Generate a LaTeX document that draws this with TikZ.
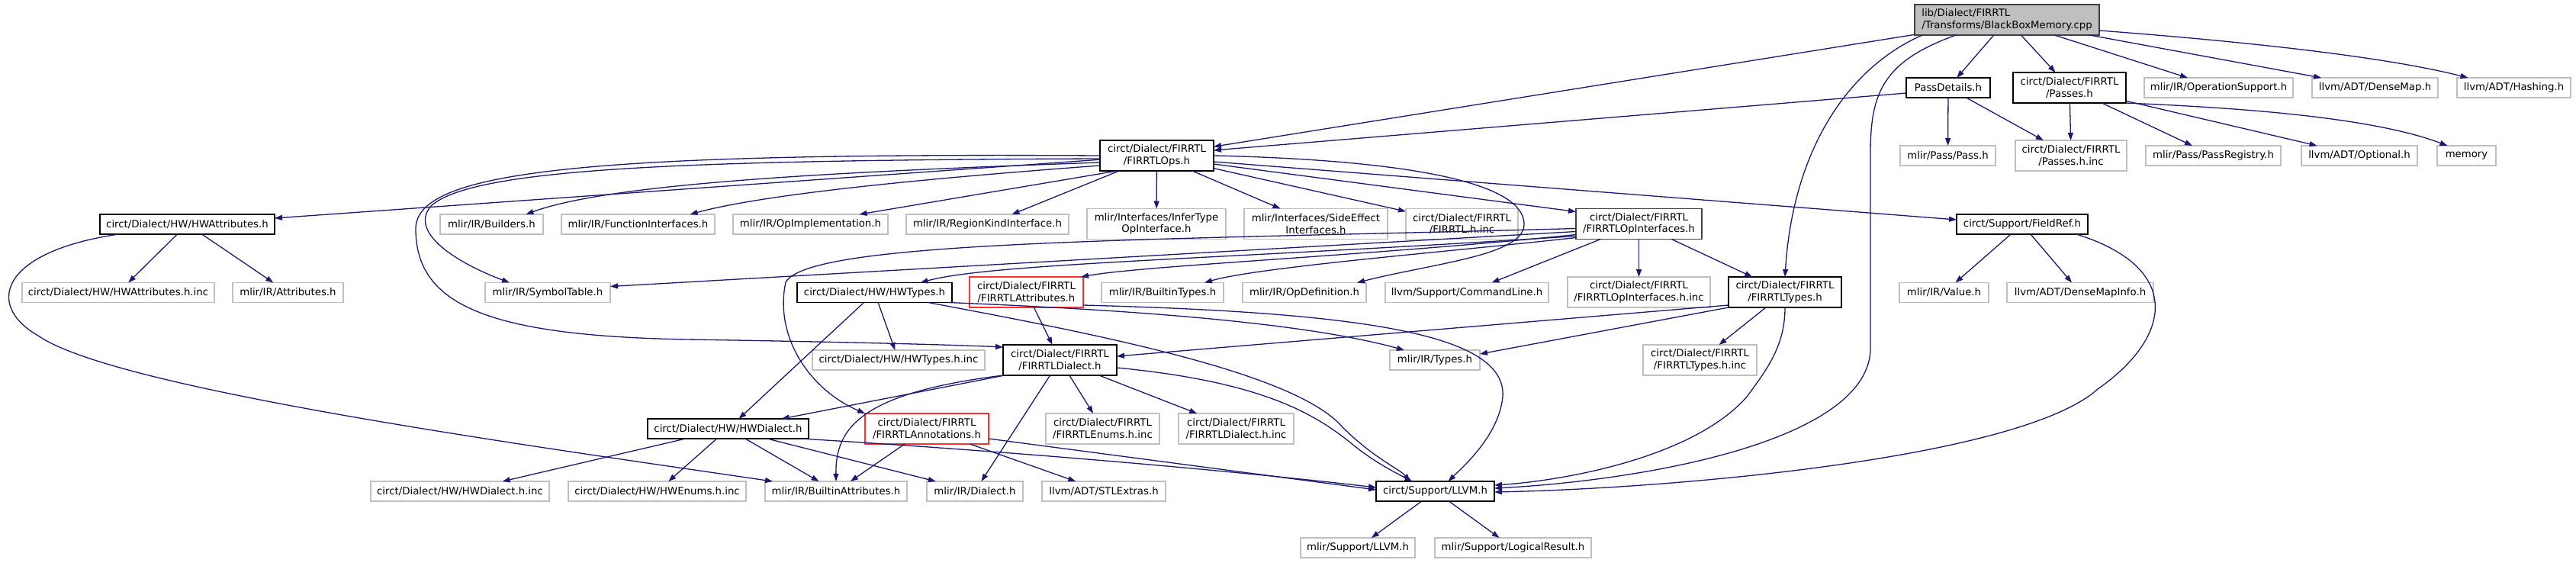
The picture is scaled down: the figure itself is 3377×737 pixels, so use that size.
\documentclass[tikz,border=0pt]{standalone}
\usepackage{fontspec}
\setmainfont{DejaVu Sans}
\usepackage{tikz}
\usetikzlibrary{arrows.meta}
\definecolor{edgeblue} {HTML}{191970}
\definecolor{leafgray} {HTML}{BFBFBF}
\definecolor{rootfill} {HTML}{BFBFBF}
\definecolor{rootline} {HTML}{404040}
\definecolor{cutred}   {HTML}{FF3030}
\tikzset{
  filebox/.style={
    rectangle, draw=black, fill=white, text=black,
    line width=1.4pt, inner sep=0pt, outer sep=0pt,
    minimum width=#1pt, minimum height=26pt,
    align=center, font=\fontsize{13.3}{15.5}\selectfont
  },
  leafbox/.style={filebox=#1, draw=leafgray},
  cutbox/.style={filebox=#1, draw=cutred},
  rootbox/.style={filebox=#1, draw=rootline, fill=rootfill,
    align=left, minimum height=40pt},
  twoline/.style={minimum height=40pt},
  incarrow/.style={-{Triangle[length=10pt,width=7pt]},
    line width=1.3pt, color=edgeblue}
}

\begin{document}
\begin{tikzpicture}[x=1pt, y=-1pt]

  \useasboundingbox (0,0) rectangle (3377,737);

  \node[rootbox=242] (root) at (2631,26)
    {lib/Dialect/FIRRTL\\/Transforms/BlackBoxMemory.cpp};

  \node[filebox=110] (passdetails) at (2554,115) {PassDetails.h};
  \node[filebox=148, twoline] (passes) at (2713,115) {circt/Dialect/FIRRTL\\/Passes.h};
  \node[leafbox=195] (opsupport) at (2908.5,115) {mlir/IR/OperationSupport.h};
  \node[leafbox=165] (densemap) at (3113.5,115) {llvm/ADT/DenseMap.h};
  \node[leafbox=149] (hashing) at (3295.5,115) {llvm/ADT/Hashing.h};

  \node[filebox=149, twoline] (firops) at (1516.5,204) {circt/Dialect/FIRRTL\\/FIRRTLOps.h};
  \node[leafbox=125] (passh) at (2553.5,204) {mlir/Pass/Pass.h};
  \node[leafbox=146, twoline] (passesinc) at (2715,204) {circt/Dialect/FIRRTL\\/Passes.h.inc};
  \node[leafbox=177] (passreg) at (2901.5,204) {mlir/Pass/PassRegistry.h};
  \node[leafbox=152] (optional) at (3093,204) {llvm/ADT/Optional.h};
  \node[leafbox=77] (memory) at (3233.5,204) {memory};

  \node[filebox=229] (hwattr) at (245.5,294) {circt/Dialect/HW/HWAttributes.h};
  \node[leafbox=135] (builders) at (644.5,294) {mlir/IR/Builders.h};
  \node[leafbox=201] (funcif) at (836.5,294) {mlir/IR/FunctionInterfaces.h};
  \node[leafbox=203] (opimpl) at (1062.5,294) {mlir/IR/OpImplementation.h};
  \node[leafbox=213] (regionkind) at (1294.5,294) {mlir/IR/RegionKindInterface.h};
  \node[leafbox=182, twoline] (infertype) at (1516,293.5) {mlir/Interfaces/InferType\\OpInterface.h};
  \node[leafbox=188, twoline] (sideeffect) at (1725,293.5) {mlir/Interfaces/SideEffect\\Interfaces.h};
  \node[leafbox=147, twoline] (firinc) at (1916.5,293.5) {circt/Dialect/FIRRTL\\/FIRRTL.h.inc};
  \node[filebox=165, twoline, draw=rootline] (opif) at (2148.5,293.5) {circt/Dialect/FIRRTL\\/FIRRTLOpInterfaces.h};
  \node[filebox=172] (fieldref) at (2651,294) {circt/Support/FieldRef.h};

  \node[leafbox=252] (hwattrinc) at (155,383.5) {circt/Dialect/HW/HWAttributes.h.inc};
  \node[leafbox=145] (attributes) at (377.5,383.5) {mlir/IR/Attributes.h};
  \node[leafbox=164] (symtab) at (718,383.5) {mlir/IR/SymbolTable.h};
  \node[filebox=203] (hwtypes) at (1146.5,383.5) {circt/Dialect/HW/HWTypes.h};
  \node[cutbox=149, twoline] (firattr) at (1345.5,383) {circt/Dialect/FIRRTL\\/FIRRTLAttributes.h};
  \node[leafbox=160] (btypes) at (1524,383.5) {mlir/IR/BuiltinTypes.h};
  \node[leafbox=162] (opdef) at (1710,383.5) {mlir/IR/OpDefinition.h};
  \node[leafbox=214] (cmdline) at (1923,383.5) {llvm/Support/CommandLine.h};
  \node[leafbox=187, twoline] (opifinc) at (2148.5,383) {circt/Dialect/FIRRTL\\/FIRRTLOpInterfaces.h.inc};
  \node[filebox=148, twoline] (firtypes) at (2340,383) {circt/Dialect/FIRRTL\\/FIRRTLTypes.h};
  \node[leafbox=117] (valueh) at (2548.5,383.5) {mlir/IR/Value.h};
  \node[leafbox=192] (dminfo) at (2727,383.5) {llvm/ADT/DenseMapInfo.h};

  \node[leafbox=226] (hwtypesinc) at (1178,472) {circt/Dialect/HW/HWTypes.h.inc};
  \node[filebox=149, twoline] (firdialect) at (1389.5,472) {circt/Dialect/FIRRTL\\/FIRRTLDialect.h};
  \node[leafbox=118] (typesh) at (1881,472) {mlir/IR/Types.h};
  \node[leafbox=149, twoline] (firtypesinc) at (2228.5,472) {circt/Dialect/FIRRTL\\/FIRRTLTypes.h.inc};

  \node[filebox=211] (hwdialect) at (954.5,562) {circt/Dialect/HW/HWDialect.h};
  \node[cutbox=162, twoline] (firannot) at (1215,562) {circt/Dialect/FIRRTL\\/FIRRTLAnnotations.h};
  \node[leafbox=149, twoline] (firenums) at (1445.5,562) {circt/Dialect/FIRRTL\\/FIRRTLEnums.h.inc};
  \node[leafbox=151, twoline] (firdialinc) at (1620.5,562) {circt/Dialect/FIRRTL\\/FIRRTLDialect.h.inc};

  \node[leafbox=234] (hwdialinc) at (603,644) {circt/Dialect/HW/HWDialect.h.inc};
  \node[leafbox=233] (hwenums) at (861.5,644) {circt/Dialect/HW/HWEnums.h.inc};
  \node[leafbox=186] (battr) at (1096,644) {mlir/IR/BuiltinAttributes.h};
  \node[leafbox=126] (dialecth) at (1278,644) {mlir/IR/Dialect.h};
  \node[leafbox=162] (stlextras) at (1447,644) {llvm/ADT/STLExtras.h};
  \node[filebox=155] (cllvm) at (1881.5,644) {circt/Support/LLVM.h};

  \node[leafbox=150] (mllvm) at (1780,718) {mlir/Support/LLVM.h};
  \node[leafbox=205] (logicres) at (1983.5,718) {mlir/Support/LogicalResult.h};

  \foreach \a/\b in {root/firops, root/passdetails, root/passes, root/opsupport,
                     root/densemap, passdetails/passh, passdetails/passesinc,
                     passes/passesinc, passes/passreg, passes/optional,
                     firops/hwattr, firops/regionkind, firops/infertype,
                     firops/sideeffect, firops/firinc, fieldref/valueh,
                     fieldref/dminfo, opif/opifinc, opif/firtypes, opif/cmdline,
                     firtypes/firtypesinc, firattr/firdialect, hwtypes/hwtypesinc,
                     hwtypes/hwdialect, firdialect/dialecth, firdialect/firenums,
                     firdialect/firdialinc, hwdialect/hwdialinc, hwdialect/hwenums,
                     hwdialect/battr, hwdialect/dialecth, firannot/battr,
                     firannot/stlextras, hwattr/hwattrinc, hwattr/attributes,
                     cllvm/mllvm, cllvm/logicres}{
    \draw[incarrow] (\a) -- (\b);
  }

  \draw[incarrow] ([yshift=-14pt]root.east) .. controls (2950,55) and (3130,75) .. ([xshift=-60pt]hashing.north);
  \draw[incarrow] ([xshift=-111pt]root.south) .. controls (2420,90) and (2350,200) .. (firtypes.north);
  \draw[incarrow] ([xshift=-67pt]root.south) .. controls (2470,80) and (2452,120) .. (2452,200)
    -- (2452,460) .. controls (2445,580) and (2150,630) .. ([yshift=4pt]cllvm.east);
  \draw[incarrow] ([yshift=-7pt]passdetails.west) -- ([yshift=7pt]firops.east);
  \draw[incarrow] (passes.south east) .. controls (2900,140) and (3100,150) .. ([xshift=-25pt]memory.north);
  \draw[incarrow] ([xshift=-15pt]fieldref.south east) .. controls (2860,350) and (2850,440) .. (2750,510)
    .. controls (2650,600) and (2200,640) .. ([yshift=-1pt]cllvm.east);

  \draw[incarrow] ([yshift=-9pt]firops.west) .. controls (1100,225) and (800,240) .. ([xshift=45pt]builders.north);
  \draw[incarrow] ([yshift=-13pt]firops.west) .. controls (1200,235) and (1000,255) .. ([xshift=68pt]funcif.north);
  \draw[incarrow] ([xshift=-52pt]firops.south) -- ([xshift=64pt]opimpl.north);
  \draw[incarrow] ([yshift=-11pt]firops.east) -- ([yshift=16pt]opif.west);
  \draw[incarrow] ([yshift=-8pt]firops.east) -- ([yshift=6pt]fieldref.west);
  \draw[incarrow] (firops.east) .. controls (1850,210) and (2000,240) .. (1998,295)
    .. controls (1996,335) and (1880,345) .. ([xshift=69pt]opdef.north);
  \draw[incarrow] ([yshift=-4pt]firops.west) .. controls (900,210) and (620,220) .. (565,270)
    .. controls (535,305) and (600,345) .. ([xshift=-50pt]symtab.north);
  \draw[incarrow] (firops.west) .. controls (760,200) and (545,225) .. (545,300)
    .. controls (545,400) and (640,440) .. (900,445)
    .. controls (1100,448) and (1250,452) .. ([yshift=17pt]firdialect.west);

  \draw[incarrow] ([yshift=10pt]opif.south west) -- ([yshift=8pt]symtab.east);
  \draw[incarrow] ([yshift=14pt]opif.south west) .. controls (1500,315) and (1060,315) .. (1030,370)
    .. controls (1015,440) and (1060,510) .. (firannot.north west);
  \draw[incarrow] ([yshift=4pt]opif.south west) .. controls (1600,340) and (1300,345) .. ([xshift=60pt]hwtypes.north);
  \draw[incarrow] ([yshift=6pt]opif.south west) .. controls (1800,335) and (1500,348) .. ([xshift=-3pt]firattr.north east);
  \draw[incarrow] ([yshift=2pt]opif.south west) .. controls (1900,330) and (1650,350) .. ([xshift=55pt]btypes.north);

  \draw[incarrow] ([yshift=-17pt]firtypes.west) -- ([yshift=5pt]firdialect.east);
  \draw[incarrow] (firtypes.south west) -- ([yshift=8pt]typesh.east);
  \draw[incarrow] (firtypes.south) .. controls (2340,450) and (2320,480) .. (2290,520)
    .. controls (2220,600) and (2050,630) .. ([yshift=8pt]cllvm.east);
  \draw[incarrow] ([yshift=-17pt]firattr.east) .. controls (1800,410) and (1975,440) .. (1970,520)
    .. controls (1965,570) and (1920,610) .. ([xshift=17pt]cllvm.north);
  \draw[incarrow] ([xshift=-5pt]hwtypes.south east) .. controls (1450,405) and (1700,420) .. ([xshift=-40pt]typesh.north);
  \draw[incarrow] ([xshift=70pt]hwtypes.south) .. controls (1450,440) and (1700,490) .. (1760,560)
    .. controls (1800,600) and (1835,615) .. ([xshift=-33pt]cllvm.north);

  \draw[incarrow] ([xshift=2pt]firdialect.south west) -- ([xshift=70pt]hwdialect.north);
  \draw[incarrow] (firdialect.south west) .. controls (1130,515) and (1095,560) .. (battr.north);
  \draw[incarrow] ([yshift=-10pt]firdialect.east) .. controls (1650,500) and (1720,540) .. (1770,580)
    .. controls (1800,605) and (1830,620) .. ([xshift=-30pt]cllvm.north);
  \draw[incarrow] ([xshift=-10pt]hwdialect.south east) .. controls (1300,590) and (1600,615) .. ([yshift=5pt]cllvm.west);
  \draw[incarrow] ([yshift=-13pt]firannot.east) -- ([yshift=2pt]cllvm.west);
  \draw[incarrow] ([xshift=-90pt]hwattr.south) .. controls (0,330) and (-20,400) .. (50,440)
    .. controls (150,510) and (700,585) .. ([xshift=10pt]battr.north west);

\end{tikzpicture}
\end{document}
